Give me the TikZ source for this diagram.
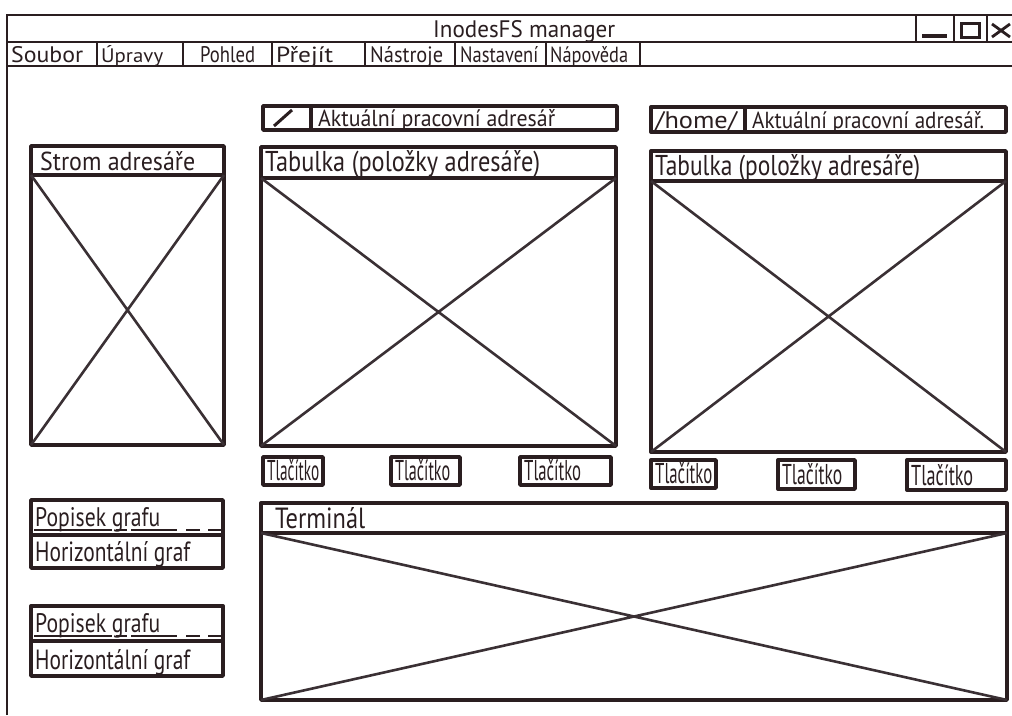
\documentclass[tikz,border=0pt]{standalone}
\usepackage{fontspec}
\setmainfont{PT Sans}
\newfontfamily\hand{PT Sans}
\usepackage{graphicx}
\definecolor{ink}{HTML}{2A1E20}
\definecolor{xink}{HTML}{3A3034}
% text squeezed to a given width and height (in pt)
\newcommand{\fitted}[3]{\resizebox{#1pt}{#2pt}{\hand #3}}
\tikzset{
  frame/.style={draw=ink, line width=2.4pt},
  box/.style={draw=ink, line width=3.4pt, line join=round},
  cross/.style={draw=xink, line width=2.6pt},
  lbl/.style={inner sep=0pt, anchor=base west, text=ink},
}
\begin{document}
\begin{tikzpicture}[x=1pt,y=-1pt]
\useasboundingbox[fill=white] (0,0) rectangle (1012,715);

% window frame, title bar, menu bar
\draw[frame] (7,715) -- (7,15) -- (1012,15);
\draw[frame] (7,42) -- (1012,42);
\draw[frame] (7,66) -- (1012,66);
\node[lbl] (title) at (433,37) {\fitted{182}{17}{InodesFS manager}};
\foreach \x in {916,954,987} \draw[frame] (\x,15) -- (\x,42);
\draw[ink, line width=3.2pt] (922,36) -- (947,36);
\draw[ink, line width=3pt] (961,23) rectangle (979,37);
\draw[ink, line width=2.8pt] (992,24) -- (1010,37) (992,37) -- (1010,24);

% menu items
\foreach \x in {97,183,272,365,455,546,640} \draw[frame] (\x,42) -- (\x,66);
\node[lbl] (m1) at (11,62)  {\fitted{72}{16}{Soubor}};
\node[lbl] (m2) at (101,62) {\fitted{62}{17}{Úpravy}};
\node[lbl] (m3) at (200,62) {\fitted{55}{16}{Pohled}};
\node[lbl] (m4) at (276,62) {\fitted{57}{16}{Přejít}};
\node[lbl] (m5) at (370,62) {\fitted{73}{16}{Nástroje}};
\node[lbl] (m6) at (460,62) {\fitted{78}{16}{Nastavení}};
\node[lbl] (m7) at (550,62) {\fitted{78}{16}{Nápověda}};

% address bars
\draw[box] (263,106) rectangle (617,130);
\draw[box] (311,106) -- (311,130);
\draw[ink, line width=3pt] (274,126) -- (292,110);
\node[lbl] (a1) at (318,126) {\fitted{237}{17}{Aktuální pracovní adresář}};
\draw[box] (651,107) rectangle (1006,132);
\draw[box] (745,107) -- (745,132);
\node[lbl] (p2) at (655,128) {\fitted{82}{17}{/home/}};
\node[lbl] (a2) at (752,128) {\fitted{232}{17}{Aktuální pracovní adresář.}};

% panels with a header and a crossed body
\foreach \xa/\ya/\xb/\yb/\yh in {31/146/224/445/175, 261/147/616/446/178, 651/151/1006/452/181, 261/503/1007/700/533}{
  \draw[box] (\xa,\ya) rectangle (\xb,\yb);
  \draw[box] (\xa,\yh) -- (\xb,\yh);
  \draw[cross] (\xa,\yh) -- (\xb,\yb) (\xb,\yh) -- (\xa,\yb);
}
\node[lbl] (tree) at (40,170)  {\fitted{155}{19}{Strom adresáře}};
\node[lbl] (tab1) at (265,171) {\fitted{275}{21}{Tabulka (položky adresáře)}};
\node[lbl] (tab2) at (655,175) {\fitted{265}{21}{Tabulka (položky adresáře)}};
\node[lbl] (term) at (275,528) {\fitted{90}{21}{Terminál}};

% buttons
\foreach \xa/\ya/\xb/\yb/\w/\n in {263/457/323/485/52/b1, 391/457/460/485/55/b2, 520/457/611/485/57/b3,
                                   651/460/716/488/57/b4, 778/460/855/489/60/b5, 907/460/1006/490/62/b6}{
  \draw[box] (\xa,\ya) rectangle (\xb,\yb);
  \node[lbl] (\n) at (\xa+4,\yb-5) {\fitted{\w}{21}{Tlačítko}};
}

% graph boxes
\foreach \ya/\yd/\yb/\n in {500/535/568/g1, 606/641/676/g2}{
  \draw[box] (31,\ya) rectangle (223,\yb);
  \draw[box] (31,\yd) -- (223,\yd);
  \node[lbl] (\n cap) at (35,\yd-9) {\fitted{125}{19}{Popisek grafu}};
  \node[lbl] (\n bar) at (35,\yb-7) {\fitted{155}{20}{Horizontální graf}};
  \draw[ink, line width=2.6pt] (34,\yd-5) -- (112,\yd-5) (116,\yd-5) -- (127,\yd-5)
        (131,\yd-5) -- (177,\yd-5) (186,\yd-5) -- (200,\yd-5) (208,\yd-5) -- (221,\yd-5);
}
\end{tikzpicture}
\end{document}
